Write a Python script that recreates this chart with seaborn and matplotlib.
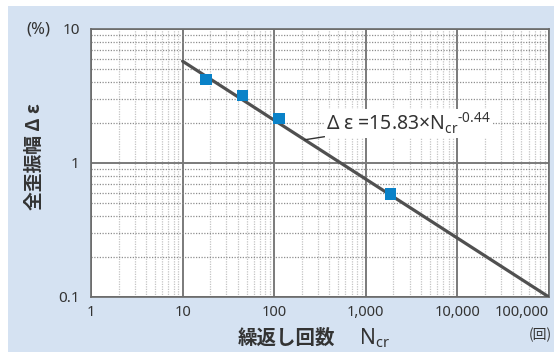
import matplotlib
matplotlib.use('Agg')
import matplotlib.pyplot as plt
import matplotlib.ticker as mticker
from matplotlib.patches import Rectangle
import pandas as pd
import seaborn as sns

# ---------------------------
# Data
# ---------------------------
test_cycles = [18, 45, 113, 1850]          # N_cr
test_strain = [4.2, 3.2, 2.14, 0.585]      # Δε (%)

fit_cycles = [10, 100000]
fit_strain = [5.75, 0.0999]                # Δε = 15.83 × N_cr^-0.44

x_ticks = [1, 10, 100, 1000, 10000, 100000]
x_labels = ["1", "10", "100", "1,000", "10,000", "100,000"]
y_ticks = [0.1, 1, 10]
y_labels = ["0.1", "1", "10"]

df_pts = pd.DataFrame({"N": test_cycles, "eps": test_strain})
df_fit = pd.DataFrame({"N": fit_cycles, "eps": fit_strain})

# ---------------------------
# Plot
# ---------------------------
sns.set_theme(style="white")
plt.rcParams['font.family'] = ['Noto Sans CJK JP', 'DejaVu Sans']
num_font = ['Noto Sans', 'DejaVu Sans']
txt_color = "#333333"

fig = plt.figure(figsize=(5.54, 3.52), dpi=100, facecolor="white")
bg = Rectangle((8 / 554, 0), 1, 1 - 6 / 352, transform=fig.transFigure,
               facecolor="#d5e2f2", edgecolor="none", zorder=-10)
fig.add_artist(bg)
ax = fig.add_axes([91 / 554, 55 / 352, 458 / 554, 268 / 352])
ax.set_facecolor("white")

ax.set_xscale("log")
ax.set_yscale("log")
ax.set_xlim(1, 100000)
ax.set_ylim(0.1, 10)

ax.xaxis.set_minor_locator(mticker.LogLocator(base=10, subs=range(2, 10)))
ax.yaxis.set_minor_locator(mticker.LogLocator(base=10, subs=range(2, 10)))
ax.grid(True, which="major", color="#7a7a7a", linestyle="-", linewidth=1.4, zorder=1)
ax.xaxis.grid(True, which="minor", color="#c4c4c4", linestyle=(0, (1, 1)), linewidth=0.9)
ax.yaxis.grid(True, which="minor", color="#8e8e8e", linestyle=(0, (1, 1.2)), linewidth=0.9)
ax.set_axisbelow(True)

sns.lineplot(data=df_fit, x="N", y="eps", ax=ax, color="#505050", linewidth=2.3, zorder=3)
sns.scatterplot(data=df_pts, x="N", y="eps", ax=ax, marker="s", s=68, color="#0a82c8",
                edgecolor="none", zorder=4)

ax.set_xticks(x_ticks)
ax.set_xticklabels(x_labels)
ax.set_yticks(y_ticks)
ax.set_yticklabels(y_labels)
ax.xaxis.set_minor_formatter(mticker.NullFormatter())
ax.yaxis.set_minor_formatter(mticker.NullFormatter())
ax.tick_params(which="both", length=0)
ax.tick_params(axis="x", labelsize=10.5, colors=txt_color, pad=6)
ax.tick_params(axis="y", labelsize=11, colors=txt_color, pad=8)
for lab in ax.get_xticklabels() + ax.get_yticklabels():
    lab.set_family(num_font)
ax.get_xticklabels()[-1].set_horizontalalignment("right")
ax.set_xlabel("")
ax.set_ylabel("")
for sp in ax.spines.values():
    sp.set_color("#6a6a6a")
    sp.set_linewidth(1.2)

# annotation with leader line
ax.annotate("Δ ε =15.83×N$_{\\mathregular{cr}}$$^{\\mathregular{\u20100.44}}$",
            xy=(215, 1.49), xytext=(372, 1.97), textcoords="data",
            fontsize=14, color=txt_color, va="center", ha="left", family=num_font,
            bbox=dict(boxstyle="square,pad=0.1", facecolor="white", edgecolor="none"),
            arrowprops=dict(arrowstyle="-", color=txt_color, linewidth=1.0,
                            shrinkA=0, shrinkB=0),
            zorder=5)

fig.text(38 / 554, 1 - 30 / 352, "(%)", fontsize=12, color=txt_color, ha="center",
         va="center", family=num_font)
fig.text(540 / 554, 1 - 335 / 352, "(回)", fontsize=10, color=txt_color, ha="center",
         va="center")
fig.text(286 / 554, 1 - 338 / 352, "繰返し回数", fontsize=14, fontweight="bold",
         color=txt_color, ha="center", va="center")
fig.text(359 / 554, 1 - 338 / 352, r"N$_{\mathregular{cr}}$", fontsize=15,
         color=txt_color, ha="left", va="center", family=num_font)
fig.text(34 / 554, 1 - 157 / 352, "全歪振幅 Δ ε", fontsize=13.5, fontweight="bold",
         color=txt_color, ha="center", va="center", rotation=90)

fig.savefig("out.png", dpi=100, facecolor=fig.get_facecolor())
plt.close(fig)
